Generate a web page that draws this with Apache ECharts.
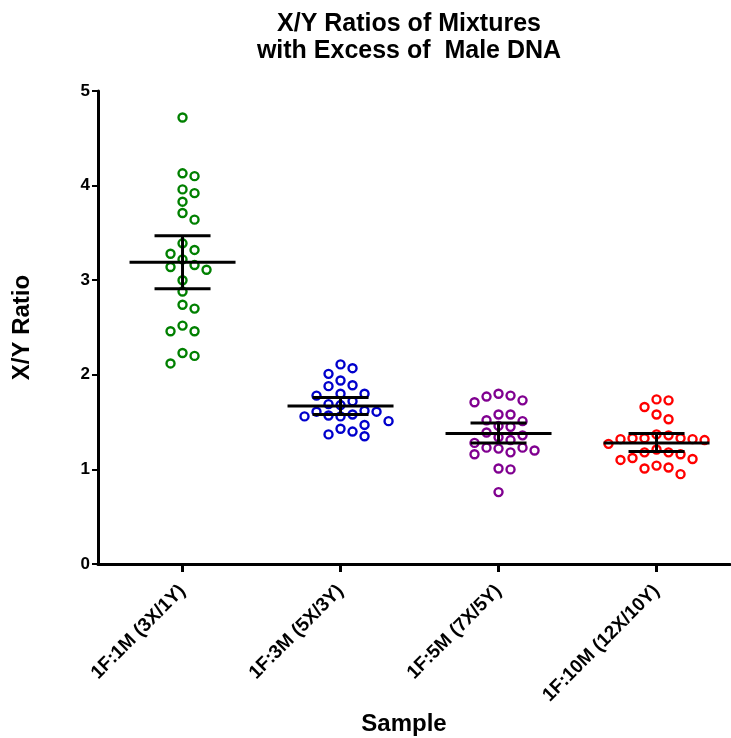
<!DOCTYPE html>
<html>
<head>
<meta charset="utf-8">
<script src="https://cdn.jsdelivr.net/npm/echarts@6/dist/echarts.min.js"></script>
<style>
  html, body { margin: 0; padding: 0; background: #fff; }
  #chart { width: 731px; height: 738px; }
</style>
</head>
<body>
<div id="chart"></div>
<script>
// sample labels
const categories = ['1F:1M (3X/1Y)', '1F:3M (5X/3Y)', '1F:5M (7X/5Y)', '1F:10M (12X/10Y)'];

// X/Y ratio per replicate
const ratio1F1M = [4.72, 4.13, 4.10, 3.96, 3.92, 3.83, 3.71, 3.64, 3.39, 3.32, 3.28, 3.22, 3.16,
  3.14, 3.11, 3.00, 2.88, 2.74, 2.70, 2.52, 2.46, 2.46, 2.23, 2.20, 2.12];
const ratio1F3M = [2.11, 2.07, 2.01, 1.94, 1.89, 1.88, 1.80, 1.80, 1.78, 1.72, 1.69, 1.68, 1.62,
  1.61, 1.61, 1.58, 1.57, 1.56, 1.56, 1.51, 1.47, 1.43, 1.40, 1.37, 1.35];
const ratio1F5M = [1.80, 1.78, 1.77, 1.73, 1.71, 1.58, 1.58, 1.52, 1.51, 1.46, 1.45, 1.39, 1.36,
  1.34, 1.31, 1.28, 1.23, 1.23, 1.22, 1.20, 1.18, 1.16, 1.01, 1.00, 0.76];
const ratio1F10M = [1.74, 1.73, 1.66, 1.58, 1.53, 1.37, 1.36, 1.33, 1.33, 1.33, 1.32, 1.32, 1.31,
  1.27, 1.21, 1.18, 1.18, 1.16, 1.12, 1.11, 1.10, 1.04, 1.02, 1.01, 0.95];

// mean with 95% CI
const means = [3.19, 1.67, 1.38, 1.28];
const ciLow = [2.91, 1.58, 1.28, 1.19];
const ciHigh = [3.47, 1.76, 1.49, 1.38];

const yTicks = [0, 1, 2, 3, 4, 5];

const groups = [ratio1F1M, ratio1F3M, ratio1F5M, ratio1F10M];
const colors = ['#008000', '#0000cc', '#800090', '#ff0000'];

// simple beeswarm: spread points that sit too close vertically into side lanes
const laneStep = 0.076;   // ~12px in x units
const overlap = 0.116;    // ~11px in y units
function swarm(values, center) {
  let lanes = {};
  let order = [0, 1, -1, 2, -2, 3, -3, 4, -4, 5, -5];
  let sorted = values.slice().sort((a, b) => b - a);
  return sorted.map(v => {
    for (let k of order) {
      let used = lanes[k] || [];
      if (used.every(u => Math.abs(u - v) >= overlap)) {
        used.push(v);
        lanes[k] = used;
        return [center + k * laneStep, v];
      }
    }
    return [center, v];
  });
}

let scatterSeries = groups.map((vals, i) => ({
  type: 'scatter',
  name: categories[i],
  data: swarm(vals, i + 1),
  symbol: 'circle',
  symbolSize: 8,
  itemStyle: { color: '#fff', borderColor: colors[i], borderWidth: 2.4, opacity: 1 },
  z: 2,
  silent: true
}));

let barData = means.map((m, i) => [i + 1, m, ciLow[i], ciHigh[i]]);

let errorSeries = {
  type: 'custom',
  data: barData,
  z: 5,
  silent: true,
  renderItem: function (params, api) {
    let x = api.value(0);
    let mid = api.coord([x, api.value(1)]);
    let lo = api.coord([x, api.value(2)]);
    let hi = api.coord([x, api.value(3)]);
    let st = { stroke: '#000', lineWidth: 3 };
    return {
      type: 'group',
      children: [
        { type: 'line', shape: { x1: mid[0], y1: lo[1], x2: mid[0], y2: hi[1] }, style: st },
        { type: 'line', shape: { x1: mid[0] - 28, y1: lo[1], x2: mid[0] + 28, y2: lo[1] }, style: st },
        { type: 'line', shape: { x1: mid[0] - 28, y1: hi[1], x2: mid[0] + 28, y2: hi[1] }, style: st },
        { type: 'line', shape: { x1: mid[0] - 53, y1: mid[1], x2: mid[0] + 53, y2: mid[1] }, style: st }
      ]
    };
  }
};

let chart = echarts.init(document.getElementById('chart'));
let option = {
  backgroundColor: '#fff',
  animation: false,
  textStyle: { fontFamily: 'Liberation Sans, Arial, sans-serif' },
  title: {
    text: 'X/Y Ratios of Mixtures\nwith Excess of  Male DNA',
    left: 404,
    top: 6,
    textAlign: 'center',
    textStyle: { fontSize: 25, fontWeight: 'bold', color: '#000', lineHeight: 27 }
  },
  grid: { left: 98, right: 1, top: 91, bottom: 174, containLabel: false, outerBoundsMode: 'none' },
  xAxis: {
    type: 'value',
    min: 0.465,
    max: 4.465,
    name: 'Sample',
    nameLocation: 'middle',
    nameGap: 147,
    nameTextStyle: { fontSize: 24, fontWeight: 'bold', color: '#000', padding: [0, 20, 0, 0] },
    splitLine: { show: false },
    axisLine: { lineStyle: { color: '#000', width: 3 } },
    axisTick: { customValues: [1, 2, 3, 4], length: 8, lineStyle: { color: '#000', width: 3 } },
    axisLabel: {
      customValues: [1, 2, 3, 4],
      formatter: v => categories[Math.round(v) - 1],
      rotate: 45,
      margin: 24,
      fontSize: 19,
      fontWeight: 'bold',
      color: '#000'
    }
  },
  yAxis: {
    type: 'value',
    min: yTicks[0],
    max: yTicks[yTicks.length - 1],
    interval: 1,
    name: 'X/Y Ratio',
    nameLocation: 'middle',
    nameGap: 64,
    nameTextStyle: { fontSize: 24, fontWeight: 'bold', color: '#000' },
    splitLine: { show: false },
    axisLine: { show: true, lineStyle: { color: '#000', width: 3 } },
    axisTick: { show: true, length: 6, lineStyle: { color: '#000', width: 2 } },
    axisLabel: { fontSize: 17, fontWeight: 'bold', color: '#000', margin: 8 }
  },
  series: scatterSeries.concat([errorSeries])
};
chart.setOption(option);
</script>
</body>
</html>
